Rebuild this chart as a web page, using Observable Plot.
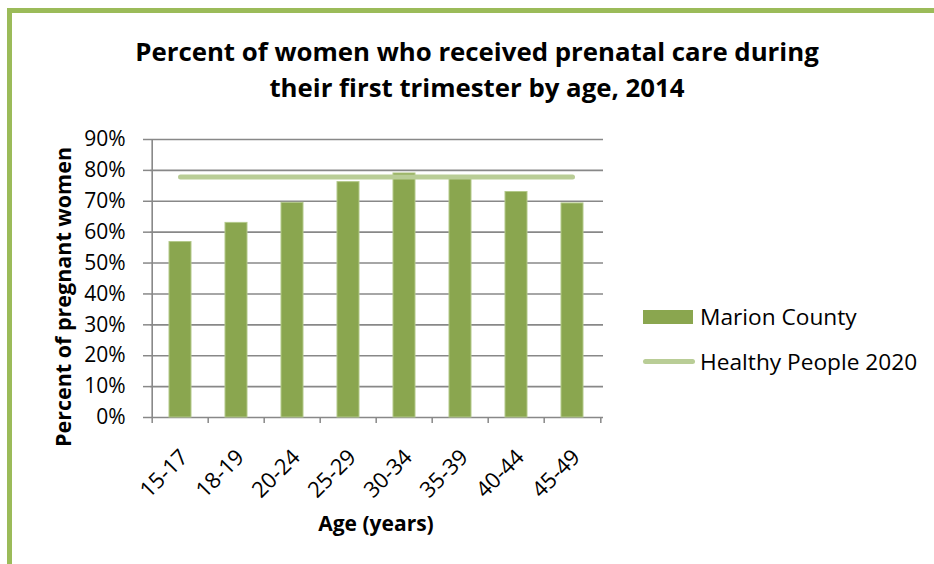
<!DOCTYPE html>
<html>
<head>
<meta charset="utf-8">
<script src="https://cdn.jsdelivr.net/npm/d3@7"></script>
<script src="https://cdn.jsdelivr.net/npm/@observablehq/plot@0.6"></script>
<style>
  body { margin: 0; width: 934px; height: 564px; position: relative; overflow: hidden; background: #fff;
         font-family: "Open Sans", Lato, sans-serif; color: #000; }
  #frame { position: absolute; left: 7px; top: 8px; width: 1000px; height: 1000px;
           border-left: 5px solid #9bbb59; border-top: 5px solid #9bbb59; }
  #title { position: absolute; left: 0; top: 33px; width: 954px; text-align: center;
           font-weight: bold; font-size: 25.8px; line-height: 36px; }
  #chart { position: absolute; left: 0; top: 120px; }
  #ytitle { position: absolute; left: 62px; top: 297px; transform: translate(-50%, -50%) rotate(-90deg);
            white-space: nowrap; font-weight: bold; font-size: 21.5px; }
  #xtitle { position: absolute; left: 376px; top: 523px; transform: translate(-50%, -50%);
            white-space: nowrap; font-weight: bold; font-size: 21px; }
  .leg { position: absolute; left: 643px; display: flex; align-items: center; font-size: 22.7px; white-space: nowrap; }
  .sw-bar { width: 50px; height: 14px; background: #8aa64f; margin-right: 7px; }
  .sw-line { width: 52px; height: 5px; border-radius: 3px; background: #b9cd96; margin-right: 5px; }
</style>
</head>
<body>
<div id="frame"></div>
<div id="title">Percent of women who received prenatal care during<br>their first trimester by age, 2014</div>
<div id="chart"></div>
<div id="ytitle">Percent of pregnant women</div>
<div id="xtitle">Age (years)</div>
<div class="leg" style="top:301px"><div class="sw-bar"></div><span>Marion County</span></div>
<div class="leg" style="top:346px"><div class="sw-line"></div><span>Healthy People 2020</span></div>
<script>
const ageGroups = ["15-17", "18-19", "20-24", "25-29", "30-34", "35-39", "40-44", "45-49"];
const marionCounty = [56.8, 63.0, 69.5, 76.2, 79.0, 77.7, 73.0, 69.3];
const healthyPeople2020 = 77.9;
const yTicks = [0, 10, 20, 30, 40, 50, 60, 70, 80, 90];

const bars = ageGroups.map((age, i) => ({age, value: marionCounty[i]}));
const target = ageGroups.map(age => ({age, value: healthyPeople2020}));

const mL = 150, mR = 331, W = 934;
const step = (W - mL - mR) / ageGroups.length;

const chart = Plot.plot({
  width: W,
  height: 444,
  marginTop: 19,
  marginBottom: 147,
  marginLeft: mL,
  marginRight: mR,
  style: {fontFamily: "'Open Sans', Lato, sans-serif", fontSize: "21px", color: "#000", background: "transparent"},
  x: {domain: ageGroups, paddingInner: 0.6, paddingOuter: 0.3, axis: null},
  y: {domain: [0, 90], axis: null},
  marks: [
    Plot.gridY(yTicks, {stroke: "#888", strokeWidth: 1.6, strokeOpacity: 1}),
    Plot.axisY(yTicks, {tickFormat: d => d + "%", tickSize: 7, tickPadding: 18, stroke: "#888", strokeWidth: 1.5, fontSize: 21, label: null}),
    Plot.ruleX([ageGroups[0]], {x: d => d, dx: -step / 2, stroke: "#888", strokeWidth: 1.6}),
    Plot.ruleX(ageGroups, {x: d => d, dx: -step / 2, y1: 0, y2: 0, insetBottom: -6, stroke: "#888", strokeWidth: 1.5}),
    Plot.ruleX([ageGroups[ageGroups.length - 1]], {x: d => d, dx: step / 2, y1: 0, y2: 0, insetBottom: -6, stroke: "#888", strokeWidth: 1.5}),
    Plot.barY(bars, {x: "age", y: "value", fill: "#8aa64f", stroke: "#b3c98a", strokeWidth: 1}),
    Plot.lineY(target, {x: "age", y: "value", stroke: "#b9cd96", strokeWidth: 5, strokeLinecap: "round"}),
    Plot.text(ageGroups, {x: d => d, frameAnchor: "bottom", rotate: -45, textAnchor: "end", lineAnchor: "middle", dx: 4, dy: 36, fontSize: 22})
  ]
});
document.getElementById("chart").appendChild(chart);
</script>
</body>
</html>
